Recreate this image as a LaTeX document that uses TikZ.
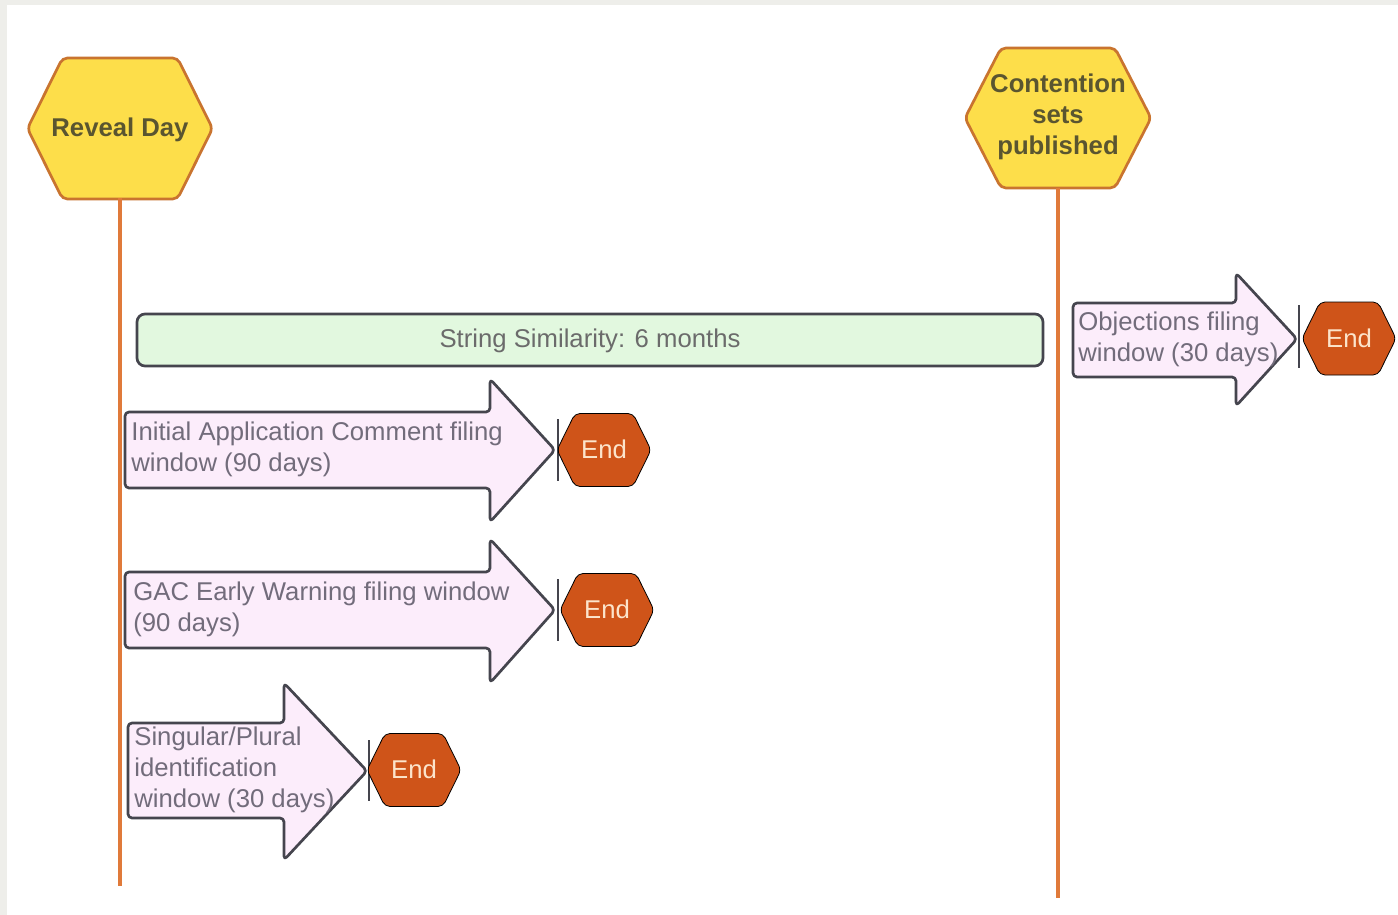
\documentclass[tikz,border=0pt]{standalone}
\usepackage{fontspec}
\setmainfont{Liberation Sans}
\usetikzlibrary{positioning}
\usetikzlibrary{calc}

\definecolor{dayfill}{HTML}{FDDE4A}
\definecolor{dayedge}{HTML}{C9742F}
\definecolor{daytext}{HTML}{5A5530}
\definecolor{lineorange}{HTML}{E07A3A}
\definecolor{simfill}{HTML}{E2F8DF}
\definecolor{boxedge}{HTML}{45454E}
\definecolor{simtext}{HTML}{6B6B6B}
\definecolor{winfill}{HTML}{FCEDFB}
\definecolor{wintextcol}{HTML}{726C7B}
\definecolor{endfill}{HTML}{CF5419}
\definecolor{endtextcol}{HTML}{FCE4CB}
\definecolor{framegrey}{HTML}{EEEEEA}

\newcommand{\diagfont}{\fontsize{12.85}{15.5}\selectfont}
% hexagon: centre x, centre y, half width, half height, corner cut
\newcommand{\hexpath}[5]{({#1-#3},#2) -- ({#1-#3+#5},{#2-#4}) -- ({#1+#3-#5},{#2-#4}) -- ({#1+#3},#2) -- ({#1+#3-#5},{#2+#4}) -- ({#1-#3+#5},{#2+#4}) -- cycle}

\begin{document}
\begin{tikzpicture}[x=0.5pt, y=-0.5pt,
    daybox/.style={draw=dayedge, fill=dayfill, line width=1.35pt, rounded corners=2.5pt},
    daylabel/.style={font=\diagfont\bfseries, text=daytext, align=center, inner sep=0pt},
    timeline/.style={draw=lineorange, line width=1.6pt},
    simbar/.style={draw=boxedge, fill=simfill, line width=1.35pt, rounded corners=4pt},
    window/.style={draw=boxedge, fill=winfill, line width=1.35pt, rounded corners=2pt, line join=round},
    wintext/.style={font=\diagfont, text=wintextcol, align=left, inner sep=0pt, anchor=west},
    stopbar/.style={draw=boxedge, line width=1.35pt},
    endhex/.style={fill=endfill, rounded corners=2.5pt},
    endlabel/.style={font=\diagfont, text=endtextcol, inner sep=0pt}]
    \useasboundingbox (0,0) rectangle (1398,915);
    \fill[white] (0,0) rectangle (1398,915);
    \fill[framegrey] (0,0) rectangle (7,915);
    \fill[framegrey] (0,0) rectangle (1398,5);

    % milestones
    \draw[daybox] \hexpath{120}{128.5}{92.5}{70.5}{35};
    \node[daylabel, minimum height=70.5pt] (reveal) at (120,129.5) {Reveal Day};
    \draw[daybox] \hexpath{1058}{118}{93}{70}{36};
    \node[daylabel, minimum height=70pt] (contention) at (1058,117) {Contention\\sets\\published};

    \coordinate (revealfoot) at (120,886);
    \coordinate (contentionfoot) at (1058,898);
    \draw[timeline] ([yshift=1pt]reveal.south) -- (revealfoot);
    \draw[timeline] ([yshift=-0.5pt]contention.south) -- (contentionfoot);

    % string similarity
    \draw[simbar] (137,314) rectangle (1043,366);
    \node[font=\diagfont, text=simtext] (strsim) at (590,340.5) {String Similarity: 6 months};

    % objections window
    \draw[window] (1073,303) -- (1236,303) -- (1236,273) -- (1297,339) -- (1236,406) -- (1236,377) -- (1073,377) -- cycle;
    \node[wintext] (objection) at (1078,339) {Objections filing\\window (30 days)};
    \draw[stopbar] (1299,305) -- (1299,368);
    \draw[endhex] \hexpath{1349}{338.5}{47}{36.5}{18};
    \node[endlabel] (objectionend) at (1349,338) {End};

    % initial application comment window
    \draw[window] (125,412) -- (490,412) -- (490,379) -- (555,450) -- (490,522) -- (490,488) -- (125,488) -- cycle;
    \node[wintext] (comment) at (131,449.5) {Initial Application Comment filing\\window (90 days)};
    \draw[stopbar] (558,419) -- (558,481);
    \draw[endhex] \hexpath{604}{450}{47}{36.5}{18};
    \node[endlabel] (commentend) at (604,449) {End};

    % GAC early warning window
    \draw[window] (125,572) -- (490,572) -- (490,539) -- (555,610) -- (490,683) -- (490,648) -- (125,648) -- cycle;
    \node[wintext] (warning) at (133,609.5) {GAC Early Warning filing window\\(90 days)};
    \draw[stopbar] (558,579) -- (558,641);
    \draw[endhex] \hexpath{607}{610}{47}{36.5}{18};
    \node[endlabel] (warningend) at (607,609) {End};

    % singular/plural window
    \draw[window] (128,723) -- (284,723) -- (284,683) -- (367,771) -- (284,860) -- (284,818) -- (128,818) -- cycle;
    \node[wintext] (plural) at (134,769.5) {Singular/Plural\\identification\\window (30 days)};
    \draw[stopbar] (369,740) -- (369,801);
    \draw[endhex] \hexpath{414}{770}{47}{36.5}{18};
    \node[endlabel] (pluralend) at (414,769) {End};
\end{tikzpicture}
\end{document}
